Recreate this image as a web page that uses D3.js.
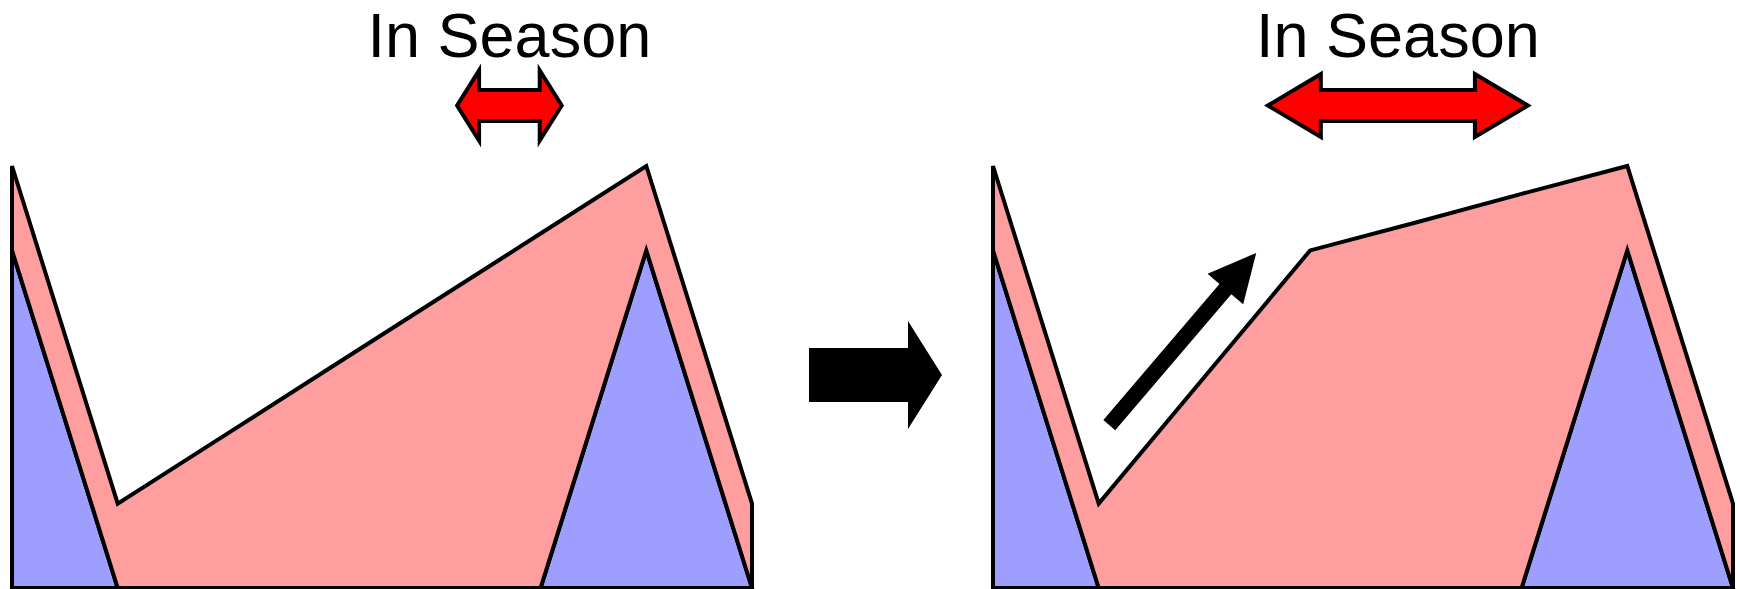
<!DOCTYPE html>
<html>
<head>
<meta charset="utf-8">
<script src="https://cdn.jsdelivr.net/npm/d3@7"></script>
<style>
  html, body { margin: 0; padding: 0; background: #ffffff; }
  svg { display: block; }
</style>
</head>
<body>
<svg id="chart" width="1740" height="589"></svg>
<script>
// ---- data ----
const periods = [0, 1, 2, 3, 4, 5, 6, 7];
const blueBefore = [4, 0, 0, 0, 0, 0, 4, 0];
const redBefore  = [1, 1, 1.8, 2.6, 3.4, 4.2, 1, 1];
const blueAfter  = [4, 0, 0, 0, 0, 0, 4, 0];
const redAfter   = [1, 1, 2.5, 4, 4.33, 4.67, 1, 1];
const titles = ["In Season", "In Season"];
const seasonBefore = [4.21, 5.2];   // span of the "In Season" arrow (periods)
const seasonAfter  = [2.6, 5.06];
const riseArrow = [[1.1, 1.93], [2.49, 3.97]]; // tail -> tip (period, value)

const svg = d3.select("#chart");
const RED = "#ff9e9e", BLUE = "#9e9eff";

const y = d3.scaleLinear().domain([0, 5]).range([588, 166]);

const panels = [
  { x: d3.scaleLinear().domain([0, 7]).range([12, 752]), blue: blueBefore, red: redBefore, season: seasonBefore, title: titles[0], hl: 22, hh: 35 },
  { x: d3.scaleLinear().domain([0, 7]).range([993, 1733]), blue: blueAfter, red: redAfter, season: seasonAfter, title: titles[1], hl: 53, hh: 31.5 }
];

panels.forEach((p) => {
  const rows = periods.map((t, i) => ({ t, blue: p.blue[i], red: p.red[i] }));
  const stack = d3.stack().keys(["blue", "red"])(rows);
  const area = d3.area()
    .x(d => p.x(d.data.t))
    .y0(d => y(d[0]))
    .y1(d => y(d[1]));
  const g = svg.append("g");
  g.selectAll("path.layer")
    .data(stack)
    .join("path")
    .attr("class", "layer")
    .attr("d", area)
    .attr("fill", (d, i) => i === 0 ? BLUE : RED)
    .attr("stroke", "#000")
    .attr("stroke-width", 4)
    .attr("stroke-linejoin", "miter");

  // title
  const cx = (p.x(p.season[0]) + p.x(p.season[1])) / 2;
  svg.append("text")
    .attr("x", cx)
    .attr("y", 57)
    .attr("text-anchor", "middle")
    .attr("font-family", "Liberation Sans, Arial, sans-serif")
    .attr("font-size", 63)
    .attr("fill", "#000")
    .text(p.title);

  // double-headed arrow
  const x1 = p.x(p.season[0]), x2 = p.x(p.season[1]);
  const cy = 105.5, sh = 15.5, hl = p.hl, hh = p.hh;
  const pts = [
    [x1, cy], [x1 + hl, cy - hh], [x1 + hl, cy - sh], [x2 - hl, cy - sh],
    [x2 - hl, cy - hh], [x2, cy], [x2 - hl, cy + hh], [x2 - hl, cy + sh],
    [x1 + hl, cy + sh], [x1 + hl, cy + hh]
  ];
  svg.append("path")
    .attr("d", "M" + pts.map(q => q.join(",")).join("L") + "Z")
    .attr("fill", "#ff0000")
    .attr("stroke", "#000")
    .attr("stroke-width", 4)
    .attr("stroke-linejoin", "miter");
});

// big arrow between panels
(function () {
  const x0 = 809, xb = 908, xt = 942, cy = 375, sh = 27, hh = 54;
  const pts = [[x0, cy - sh], [xb, cy - sh], [xb, cy - hh], [xt, cy], [xb, cy + hh], [xb, cy + sh], [x0, cy + sh]];
  svg.append("path")
    .attr("d", "M" + pts.map(q => q.join(",")).join("L") + "Z")
    .attr("fill", "#000");
})();

// rising arrow in right panel
(function () {
  const px = panels[1].x;
  const tail = [px(riseArrow[0][0]), y(riseArrow[0][1])];
  const tip = [px(riseArrow[1][0]), y(riseArrow[1][1])];
  const dx = tip[0] - tail[0], dy = tip[1] - tail[1];
  const L = Math.hypot(dx, dy);
  const u = [dx / L, dy / L], n = [-u[1], u[0]];
  const headLen = 47.5, headW = 23.4, sw = 7.8;
  const b = [tip[0] - u[0] * headLen, tip[1] - u[1] * headLen];
  const P = (c, k) => [c[0] + n[0] * k, c[1] + n[1] * k];
  const pts = [P(tail, sw), P(b, sw), P(b, headW), tip, P(b, -headW), P(b, -sw), P(tail, -sw)];
  svg.append("path")
    .attr("d", "M" + pts.map(q => q.join(",")).join("L") + "Z")
    .attr("fill", "#000");
})();
</script>
</body>
</html>
